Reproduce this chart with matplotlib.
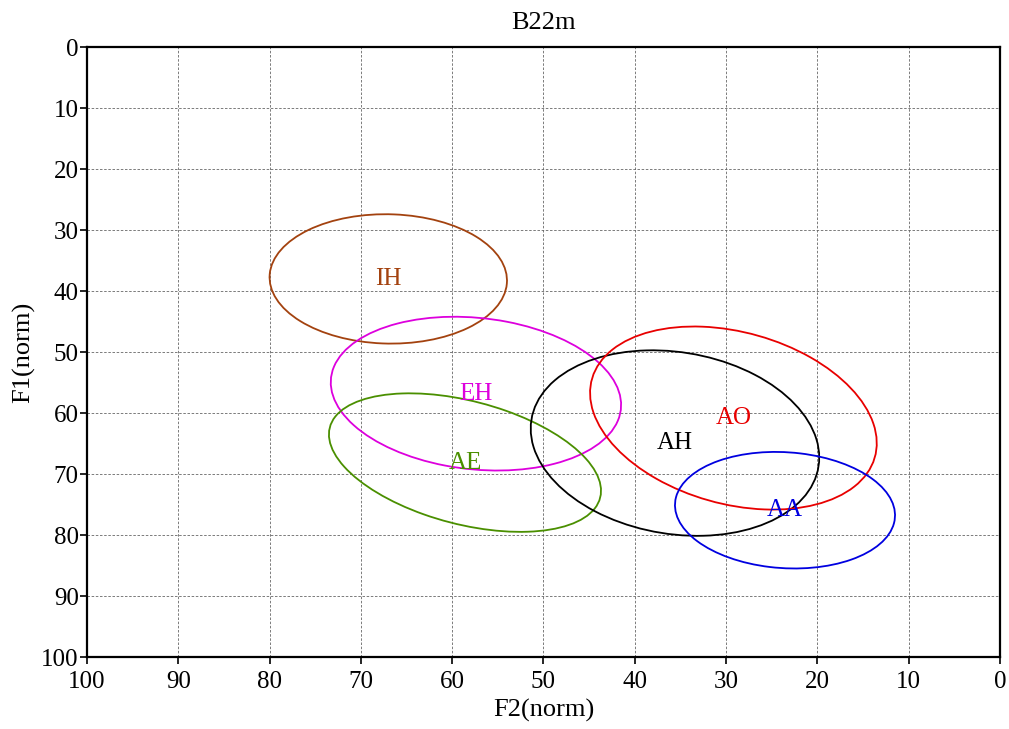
"""
Vowel formant ellipses (normalised F1/F2) for speaker B22m
"""

import numpy as np
import matplotlib
matplotlib.use('Agg')
import matplotlib.pyplot as plt
from matplotlib.patches import Ellipse

#---------------------------------------------------------------------------------------------------
# Data
#---------------------------------------------------------------------------------------------------

vowels = ['IH', 'EH', 'AE', 'AH', 'AO', 'AA']
colors = ['#a3420f', '#dd00dd', '#4a8f00', '#000000', '#e80000', '#0000e0']

# ellipse centres
f2_ctr = [67.0, 57.4, 58.6, 35.6, 29.2, 23.55]
f1_ctr = [38.0, 56.8, 68.1, 64.9, 60.8, 75.9]

# half extents along each axis and F1/F2 correlation
f2_half = [13.0, 15.9, 14.9, 15.8, 15.7, 12.05]
f1_half = [10.6, 12.6, 11.35, 15.2, 15.0, 9.55]
rho = [-0.025, -0.147, -0.407, -0.156, -0.275, -0.087]

xticks = list(range(0, 101, 10))
yticks = list(range(0, 101, 10))

#---------------------------------------------------------------------------------------------------
# Plot
#---------------------------------------------------------------------------------------------------

plt.rcParams['font.family'] = ['Liberation Serif', 'DejaVu Serif']

fig = plt.figure(figsize=(10.09, 7.29), dpi=100)
ax = fig.add_axes([0.0862, 0.0984, 0.9049, 0.8371])

for v, c, cx, cy, sx, sy, r in zip(vowels, colors, f2_ctr, f1_ctr, f2_half, f1_half, rho):
    cov = np.array([[sx**2, r*sx*sy], [r*sx*sy, sy**2]])
    vals, vecs = np.linalg.eigh(cov)
    ang = np.degrees(np.arctan2(vecs[1, 1], vecs[0, 1]))
    ell = Ellipse((cx, cy), 2*np.sqrt(vals[1]), 2*np.sqrt(vals[0]), angle=ang,
                  fill=False, ec=c, lw=1.3, zorder=3)
    ax.add_patch(ell)
    ax.text(cx, cy, v, color=c, fontsize=18, ha='center', va='center', zorder=4)

ax.set_xlim(100, 0)
ax.set_ylim(100, 0)
ax.set_xticks(xticks)
ax.set_yticks(yticks)
ax.tick_params(labelsize=18, length=5, width=1.2, direction='out')
ax.tick_params(axis='x', pad=5)
ax.tick_params(axis='y', pad=1)
ax.grid(True, ls=(0, (3, 2)), color='#666666', lw=0.6)
ax.set_axisbelow(True)
for s in ax.spines.values():
    s.set_linewidth(1.6)

ax.set_xlabel('F2(norm)', fontsize=19, labelpad=4)
ax.set_ylabel('F1(norm)', fontsize=19, labelpad=4)
ax.set_title('B22m', fontsize=19, pad=13)

plt.savefig('out.png', dpi=100)
